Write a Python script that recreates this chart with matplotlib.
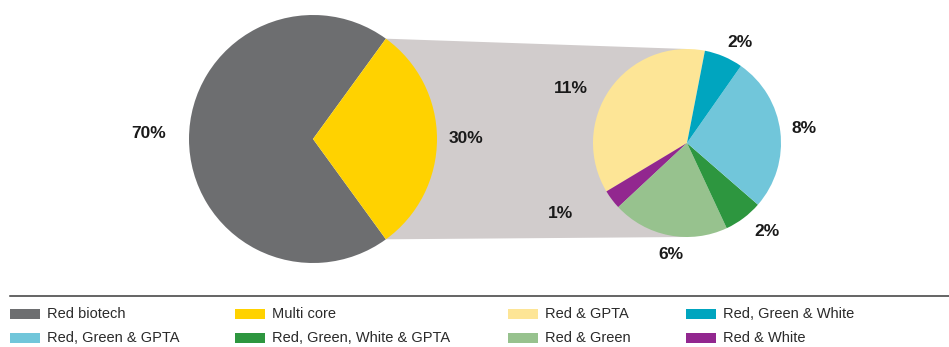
import matplotlib
matplotlib.use("Agg")
import matplotlib.pyplot as plt
from matplotlib.patches import Polygon, Rectangle
import numpy as np

plt.rcParams['font.family'] = ['Liberation Sans', 'DejaVu Sans']

# main pie
main_labels = ["Red biotech", "Multi core"]
main_values = [70, 30]
main_colors = ["#6D6E70", "#FFD200"]

# breakdown of the multi core slice
sub_labels = ["Red & GPTA", "Red & White", "Red & Green", "Red, Green, White & GPTA",
              "Red, Green & GPTA", "Red, Green & White"]
sub_values = [11, 1, 6, 2, 8, 2]
sub_colors = ["#FDE596", "#92278F", "#97C28E", "#2D963F", "#71C6DA", "#00A5BF"]

# legend order as in the figure
legend_order = ["Red biotech", "Multi core", "Red & GPTA", "Red, Green & White",
                "Red, Green & GPTA", "Red, Green, White & GPTA", "Red & Green", "Red & White"]

W, H = 949, 347
fig = plt.figure(figsize=(W / 100, H / 100), dpi=100)
ax = fig.add_axes([0, 0, 1, 1])

c1, r1 = (313, 208), 124
c2, r2 = (687, 204), 94

w1, _ = ax.pie(main_values, colors=main_colors, startangle=54, center=c1, radius=r1,
               frame=True, wedgeprops=dict(linewidth=0))
w2, _ = ax.pie(sub_values, colors=sub_colors, startangle=79, center=c2, radius=r2,
               frame=True, wedgeprops=dict(linewidth=0))
for w in w1 + w2:
    w.set_zorder(3)

# connector between the two pies
y_w = w1[1]
t1, t2 = np.radians(y_w.theta1), np.radians(y_w.theta2)
pts = [(c1[0] + r1 * np.cos(t2), c1[1] + r1 * np.sin(t2)),
       (c2[0], c2[1] + r2), (c2[0], c2[1] - r2),
       (c1[0] + r1 * np.cos(t1), c1[1] + r1 * np.sin(t1))]
ax.add_patch(Polygon(pts, closed=True, facecolor="#D1CCCC", edgecolor="none", zorder=1))

# percentage labels (distance factor, angle tweak in degrees)
def put_labels(wedges, values, c, r, dists, tweaks):
    for w, v, d, tw in zip(wedges, values, dists, tweaks):
        a = np.radians((w.theta1 + w.theta2) / 2 + tw)
        ax.text(c[0] + r * d * np.cos(a), c[1] + r * d * np.sin(a), f"{v}%",
                ha="center", va="center", fontsize=12.5, fontweight="bold",
                color="#1a1a1a", zorder=5)

put_labels(w1, main_values, c1, r1, [1.33, 1.23], [-2, 0])
put_labels(w2, sub_values, c2, r2, [1.36, 1.54, 1.2, 1.27, 1.26, 1.21],
           [10, -8, 3, 5, 0, -5])

# legend
ax.plot([10, W], [51, 51], color="#3a3a3a", lw=1.1, zorder=2)
col_x = [10, 235, 508, 686]
row_y = [33, 9]
color_of = dict(zip(main_labels + sub_labels, main_colors + sub_colors))
for i, lab in enumerate(legend_order):
    x = col_x[i % 4]
    y = row_y[i // 4]
    ax.add_patch(Rectangle((x, y - 5), 30, 10, facecolor=color_of[lab], edgecolor="none"))
    ax.text(x + 37, y, lab, ha="left", va="center", fontsize=10.5, color="#2a2a2a")

ax.set_xlim(0, W)
ax.set_ylim(0, H)
ax.set_aspect("equal")
ax.axis("off")

fig.savefig("out.png", dpi=100)
